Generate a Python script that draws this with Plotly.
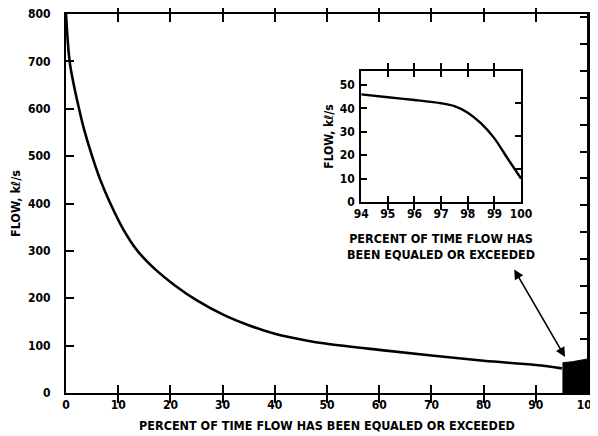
import plotly.graph_objects as go

# ---- data ----
pct_main = [0, 0.7, 1.5, 2.5, 3.5, 5, 6.5, 8.5, 11, 13.7, 17, 21, 25, 30, 35, 40, 46, 50, 60, 70, 80, 90, 95]
flow_main = [800, 700, 650, 600, 555, 500, 452, 400, 345, 300, 262, 226, 196, 166, 143, 125, 111, 104, 91, 79, 68, 59, 52]

# dark blotch at the low-flow end (95-100 %)
blot_pct = [95.2, 95.2, 97, 100, 100]
blot_flow = [0, 64, 66, 72, 0]

pct_inset = [94, 95, 96, 97, 97.5, 98, 98.5, 99, 99.5, 100]
flow_inset = [46, 44.8, 43.6, 42.2, 41, 38.2, 33.6, 27.2, 18.5, 10]

x_ticks_main = [0, 10, 20, 30, 40, 50, 60, 70, 80, 90, 100]
y_ticks_main = [0, 100, 200, 300, 400, 500, 600, 700, 800]
x_ticks_inset = [94, 95, 96, 97, 98, 99, 100]
y_ticks_inset = [0, 10, 20, 30, 40, 50]

M3_PER_FT3 = 0.0283168  # right-hand (unlabelled) cfs tick scales

FONT = "Liberation Sans Narrow, DejaVu Sans Condensed, Arial Narrow, sans-serif"
BLACK = "#000000"

# the page body adds an ~8 px offset; the figure is sized to fill the rest of the window
OFF = 8
FIG_W, FIG_H = 598 - OFF, 436 - OFF
PL, PR, PT, PB = 65.5, 588, 14, 393      # plot box in window pixels

fig = go.Figure()

fig.add_trace(go.Scatter(x=pct_main, y=flow_main, mode="lines",
                         line=dict(color=BLACK, width=2.6, shape="spline", smoothing=1.0),
                         xaxis="x", yaxis="y", hoverinfo="skip", showlegend=False))
fig.add_trace(go.Scatter(x=blot_pct, y=blot_flow, mode="lines", fill="toself",
                         fillcolor=BLACK, line=dict(color=BLACK, width=1),
                         xaxis="x", yaxis="y", hoverinfo="skip", showlegend=False))
# invisible copy on the cfs scale so that axis exists
fig.add_trace(go.Scatter(x=pct_main, y=[v / M3_PER_FT3 for v in flow_main], mode="lines",
                         line=dict(width=0), opacity=0,
                         xaxis="x", yaxis="y3", hoverinfo="skip", showlegend=False))

fig.add_trace(go.Scatter(x=pct_inset, y=flow_inset, mode="lines",
                         line=dict(color=BLACK, width=2.4, shape="spline", smoothing=0.8),
                         xaxis="x2", yaxis="y2", hoverinfo="skip", showlegend=False))
fig.add_trace(go.Scatter(x=pct_inset, y=[v / M3_PER_FT3 for v in flow_inset], mode="lines",
                         line=dict(width=0), opacity=0,
                         xaxis="x2", yaxis="y4", hoverinfo="skip", showlegend=False))

tickfont = dict(family=FONT, size=12, color=BLACK, weight="bold")
inset_tickfont = dict(family=FONT, size=12, color=BLACK, weight="bold")
titlefont = dict(family=FONT, size=12.5, color=BLACK, weight="bold")

pw = PR - PL
ph = PB - PT
ins_x0 = (361 - PL) / pw
ins_x1 = (521 - PL) / pw
ins_y0 = (PB - 202) / ph
ins_y1 = (PB - 71) / ph

fig.update_layout(
    width=FIG_W, height=FIG_H,
    margin=dict(l=PL - OFF, r=FIG_W - (PR - OFF), t=PT - OFF, b=FIG_H - (PB - OFF),
                autoexpand=False),
    paper_bgcolor="white", plot_bgcolor="white",
    showlegend=False,
    xaxis=dict(range=[0, 100], tickvals=x_ticks_main, ticks="inside", ticklen=8,
               tickwidth=1.5, tickcolor=BLACK, showline=True, linecolor=BLACK, linewidth=2,
               mirror="allticks", showgrid=False, zeroline=False, tickfont=tickfont,
               automargin=False, ticklabeloverflow="allow",
               title=dict(text="PERCENT OF TIME FLOW HAS BEEN EQUALED OR EXCEEDED",
                          font=titlefont, standoff=10),
               domain=[0, 1], anchor="y"),
    yaxis=dict(range=[0, 800], tickvals=y_ticks_main, ticks="inside", ticklen=8,
               tickwidth=1.5, tickcolor=BLACK, showline=True, linecolor=BLACK, linewidth=2,
               mirror=True, showgrid=False, zeroline=False, tickfont=tickfont,
               ticklabelstandoff=11, automargin=False, ticklabeloverflow="allow",
               title=dict(text="FLOW, kℓ/s", font=titlefont, standoff=8),
               domain=[0, 1], anchor="x"),
    yaxis3=dict(range=[0, 800 / M3_PER_FT3], dtick=2000, tick0=0, ticks="inside", ticklen=8,
                tickwidth=1.5, tickcolor=BLACK, showline=True, linecolor=BLACK, linewidth=2,
                showticklabels=False,
                showgrid=False, zeroline=False, overlaying="y", side="right", anchor="x",
                automargin=False),
    xaxis2=dict(range=[94, 100], tickvals=x_ticks_inset, ticks="inside", ticklen=6,
                tickwidth=1.5, tickcolor=BLACK, showline=True, linecolor=BLACK, linewidth=2,
                mirror="allticks", showgrid=False, zeroline=False, tickfont=inset_tickfont,
                automargin=False,
                domain=[ins_x0, ins_x1], anchor="y2"),
    yaxis2=dict(range=[0, 56], tickvals=y_ticks_inset, ticks="inside", ticklen=6,
                tickwidth=1.5, tickcolor=BLACK, showline=True, linecolor=BLACK, linewidth=2,
                mirror=True, showgrid=False, zeroline=False, tickfont=inset_tickfont,
                ticklabelstandoff=2, automargin=False,
                title=dict(text="FLOW, kℓ/s", font=dict(family=FONT, size=12, color=BLACK, weight="bold"),
                           standoff=4),
                domain=[ins_y0, ins_y1], anchor="x2"),
    yaxis4=dict(range=[0, 56 / M3_PER_FT3], dtick=500, tick0=0, ticks="inside", ticklen=6,
                tickwidth=1.5, tickcolor=BLACK, showline=True, linecolor=BLACK, linewidth=2,
                showticklabels=False,
                showgrid=False, zeroline=False, overlaying="y2", side="right", anchor="x2",
                automargin=False),
)

# right-hand frame edge of the main panel
fig.add_shape(type="line", xref="paper", yref="paper", x0=1, x1=1, y0=0, y1=1,
              line=dict(color=BLACK, width=2))

fig.add_annotation(x=(441 - PL) / pw, y=(PB - 246) / ph, xref="paper", yref="paper",
                   xanchor="center", yanchor="middle",
                   text="PERCENT OF TIME FLOW HAS<br>BEEN EQUALED OR EXCEEDED",
                   showarrow=False, font=dict(family=FONT, size=12.5, color=BLACK, weight="bold"),
                   align="center")

fig.add_annotation(x=95.6, y=76, ax=85.7, ay=264, xref="x", yref="y", axref="x", ayref="y",
                   text="", showarrow=True, arrowhead=2, startarrowhead=2, arrowside="end+start",
                   arrowsize=1.2, startarrowsize=1.2, arrowwidth=1.6, arrowcolor=BLACK,
                   standoff=0, startstandoff=0)

fig.write_html("out.html")
